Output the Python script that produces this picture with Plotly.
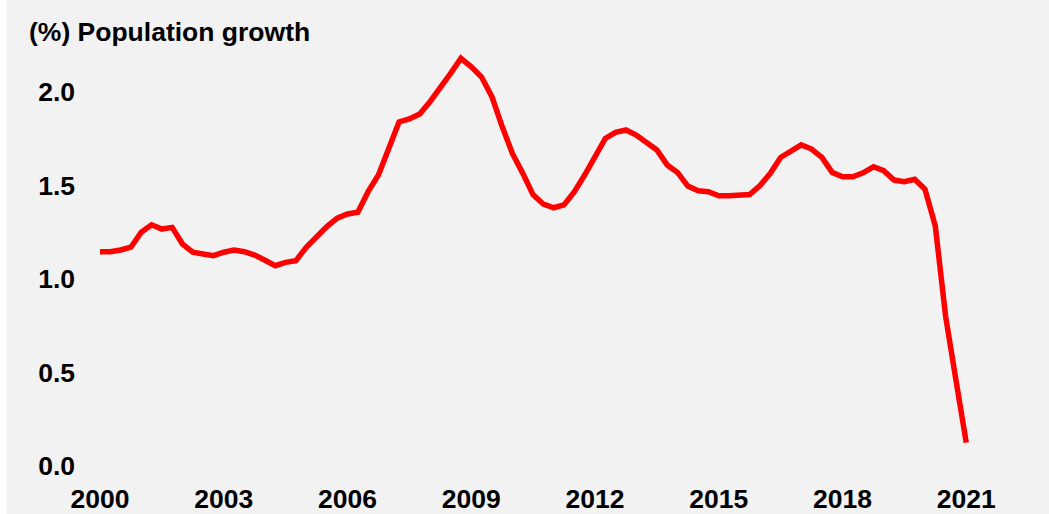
import plotly.graph_objects as go

# Quarterly population growth (%), 2000Q1 .. 2021Q1
start_year = 2000
growth = [
    1.146, 1.146, 1.155, 1.170, 1.250, 1.290, 1.267, 1.276, 1.187, 1.143,
    1.134, 1.125, 1.143, 1.155, 1.146, 1.128, 1.100, 1.071, 1.089, 1.098,
    1.170, 1.230, 1.280, 1.325, 1.348, 1.357, 1.467, 1.556, 1.690, 1.840,
    1.856, 1.882, 1.948, 2.020, 2.100, 2.180, 2.135, 2.080, 1.975, 1.815,
    1.670, 1.565, 1.450, 1.400, 1.381, 1.396, 1.467, 1.556, 1.654, 1.752,
    1.784, 1.797, 1.770, 1.731, 1.690, 1.610, 1.570, 1.497, 1.472, 1.467,
    1.445, 1.445, 1.445, 1.452, 1.500, 1.565, 1.650, 1.684, 1.717, 1.695,
    1.650, 1.570, 1.547, 1.547, 1.568, 1.600, 1.579, 1.529, 1.520, 1.533,
    1.480, 1.283, 0.800, 0.460, 0.125,
]
x_tick_years = [2000, 2003, 2006, 2009, 2012, 2015, 2018, 2021]
y_tick_vals = [0.0, 0.5, 1.0, 1.5, 2.0]
title_text = "(%) Population growth"

quarters = [start_year + i / 4 for i in range(len(growth))]

LEFT_GAP = 7
W, H = 1049 - LEFT_GAP, 514
ml, mr, mt, mb = 69, 20, 36, 34
font_family = "Liberation Sans, Arial, sans-serif"
bold = dict(family=font_family, size=26.5, color="black", weight="bold")

fig = go.Figure()
fig.add_trace(go.Scatter(
    x=quarters, y=growth, mode="lines",
    line=dict(color="#ff0000", width=5.5),
    hoverinfo="skip", showlegend=False,
))

plot_w = W - ml - mr
px_per_year = 41.25
x0 = 2000 - (100 - LEFT_GAP - ml) / px_per_year
x1 = x0 + plot_w / px_per_year
px_per_unit = 187.0
y1 = (466 - mt) / px_per_unit
y0 = y1 - (H - mt - mb) / px_per_unit

fig.update_layout(
    width=W, height=H,
    margin=dict(l=ml, r=mr, t=mt, b=mb, pad=0),
    paper_bgcolor="#f2f2f2",
    plot_bgcolor="#f2f2f2",
    xaxis=dict(
        range=[x0, x1], tickmode="array",
        tickvals=x_tick_years, ticktext=[str(v) for v in x_tick_years],
        showgrid=False, zeroline=False, showline=False, ticks="",
        tickfont=bold, automargin=False,
    ),
    yaxis=dict(
        range=[y0, y1], tickmode="array",
        tickvals=y_tick_vals, ticktext=[f"{v:.1f}" for v in y_tick_vals],
        showgrid=False, zeroline=False, showline=False, ticks="",
        tickfont=bold, automargin=False,
    ),
    annotations=[
        dict(text=title_text, xref="paper", yref="paper",
             x=(27 - LEFT_GAP - ml) / plot_w, y=1 + (mt - 32) / (H - mt - mb),
             xanchor="left", yanchor="middle", showarrow=False,
             font=dict(family=font_family, size=26.5, color="black", weight="bold")),
    ],
)

fig.write_html(
    "out.html",
    post_script="document.body.style.margin='0 0 0 %dpx';document.body.style.overflow='hidden';" % LEFT_GAP,
)
